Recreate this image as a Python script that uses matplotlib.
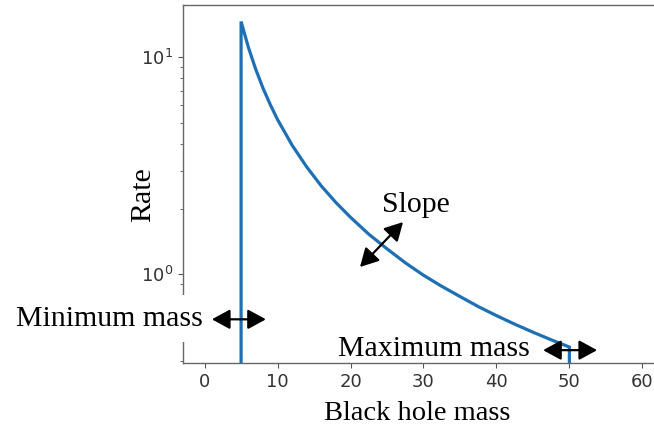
import matplotlib
matplotlib.use("Agg")
import matplotlib.pyplot as plt
from matplotlib.ticker import NullFormatter

# Data (rate vs. black hole mass, power law between min and max mass)
mass = [5, 5, 6, 7, 8, 9, 10, 12, 14, 16, 18, 20, 22.5, 25, 27.5, 30, 32.5, 35,
        37.5, 40, 42.5, 45, 47.5, 50, 50]
rate = [0, 14.6, 11.11, 8.81, 7.21, 6.05, 5.16, 3.93, 3.12, 2.55, 2.14, 1.83, 1.53,
        1.31, 1.13, 0.99, 0.88, 0.79, 0.71, 0.645, 0.589, 0.541, 0.499, 0.462, 0]
xticks = [0, 10, 20, 30, 40, 50, 60]

fig = plt.figure(figsize=(6.54, 4.32), dpi=100)
ax = fig.add_axes([0.2794, 0.1597, 0.7362, 0.8287])
ax.set_yscale("log", nonpositive="clip")
ax.plot(mass, rate, color="#1f6fb4", lw=2.3, solid_joinstyle="miter")
ax.set_xlim(-3, 63)
ax.set_ylim(0.39, 17.4)
ax.set_xticks(xticks)
ax.yaxis.set_minor_formatter(NullFormatter())
for s in ax.spines.values():
    s.set_color("#666666")
    s.set_linewidth(1.0)
ax.tick_params(axis="both", which="both", colors="#555555", labelcolor="#333333",
               labelsize=13)

serif = ["Liberation Serif", "DejaVu Serif"]
ax.set_xlabel("Black hole mass", fontsize=20.5, family=serif)
ax.xaxis.set_label_coords(0.487, -0.142)
ax.set_ylabel("Rate", fontsize=21.5, family=serif)
ax.yaxis.set_label_coords(-0.082, 0.469)
ax.yaxis.label.set_va("center")
ax.xaxis.label.set_va("center")

aprops = dict(arrowstyle="<|-|>,head_length=0.55,head_width=0.3", color="black",
              lw=1.6, mutation_scale=20, shrinkA=0, shrinkB=0)

# Minimum mass
ax.annotate("", xy=(8.4, 0.62), xytext=(1.0, 0.62), arrowprops=aprops, zorder=5)
ax.text(-0.2, 0.625, "Minimum mass", fontsize=21.5, family=serif, ha="right",
        va="center", zorder=4,
        bbox=dict(boxstyle="square,pad=0.35", fc="white", ec="none"))

# Maximum mass
ax.annotate("", xy=(53.8, 0.447), xytext=(46.4, 0.447), arrowprops=aprops, zorder=5)
ax.text(44.6, 0.452, "Maximum mass", fontsize=21.5, family=serif, ha="right",
        va="center", zorder=4)

# Slope
ax.annotate("", xy=(27.2, 1.74), xytext=(21.3, 1.08), arrowprops=aprops, zorder=5)
ax.text(28.9, 2.08, "Slope", fontsize=21.5, family=serif, ha="center",
        va="center", zorder=4)

fig.savefig("out.png", dpi=100)
